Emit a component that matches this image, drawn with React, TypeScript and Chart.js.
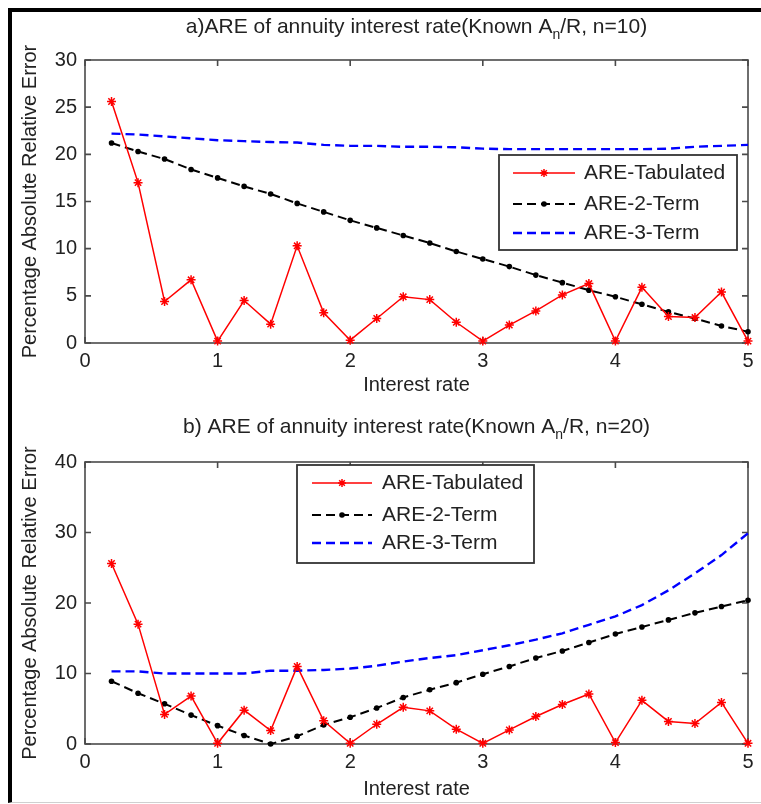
import React, { useEffect, useRef } from "react";
import { Chart, registerables } from "chart.js";

Chart.register(...registerables);

// ---------- data ----------
const interestRate = [0.2, 0.4, 0.6, 0.8, 1.0, 1.2, 1.4, 1.6, 1.8, 2.0, 2.2, 2.4, 2.6, 2.8, 3.0, 3.2, 3.4, 3.6, 3.8, 4.0, 4.2, 4.4, 4.6, 4.8, 5.0];

const topTabulated = [25.6, 17.0, 4.4, 6.7, 0.2, 4.5, 2.0, 10.3, 3.2, 0.3, 2.6, 4.9, 4.6, 2.2, 0.2, 1.9, 3.4, 5.1, 6.3, 0.2, 5.9, 2.8, 2.7, 5.4, 0.2];
const top2Term = [21.2, 20.3, 19.5, 18.4, 17.5, 16.6, 15.8, 14.8, 13.9, 13.0, 12.2, 11.4, 10.6, 9.7, 8.9, 8.1, 7.2, 6.4, 5.6, 4.9, 4.1, 3.3, 2.6, 1.8, 1.2];
const top3Term = [22.2, 22.1, 21.9, 21.7, 21.5, 21.4, 21.3, 21.25, 21.0, 20.9, 20.9, 20.8, 20.8, 20.75, 20.6, 20.55, 20.55, 20.55, 20.55, 20.55, 20.55, 20.6, 20.8, 20.9, 21.0];

const bottomTabulated = [25.6, 17.0, 4.2, 6.8, 0.1, 4.8, 1.9, 11.0, 3.3, 0.1, 2.8, 5.2, 4.7, 2.1, 0.1, 2.0, 3.9, 5.6, 7.1, 0.2, 6.2, 3.2, 2.9, 5.9, 0.1];
const bottom2Term = [8.9, 7.2, 5.7, 4.1, 2.6, 1.2, 0.0, 1.1, 2.7, 3.8, 5.1, 6.6, 7.7, 8.7, 9.9, 11.0, 12.2, 13.2, 14.4, 15.6, 16.6, 17.6, 18.6, 19.5, 20.4];
const bottom3Term = [10.3, 10.3, 10.0, 10.0, 10.0, 10.0, 10.4, 10.4, 10.5, 10.7, 11.1, 11.7, 12.2, 12.6, 13.3, 14.0, 14.8, 15.7, 16.9, 18.1, 19.7, 21.8, 24.2, 26.8, 29.9];

const seriesLabels = ["ARE-Tabulated", "ARE-2-Term", "ARE-3-Term"];
const xTitle = "Interest rate";
const yTitle = "Percentage Absolute Relative Error";
const topTitleParts = ["a)ARE of annuity interest rate(Known A", "n", "/R, n=10)"];
const bottomTitleParts = ["b) ARE of annuity interest rate(Known A", "n", "/R, n=20)"];
const topYMax = 30;
const topYStep = 5;
const bottomYMax = 40;
const bottomYStep = 10;
const xMin = 0;
const xMax = 5;

// ---------- styling ----------
const FONT = "'Liberation Sans', Arial, Helvetica, sans-serif";
const TEXT = "#222";

function drawStar(ctx: CanvasRenderingContext2D, x: number, y: number, r: number) {
  ctx.beginPath();
  ctx.moveTo(x - r, y);
  ctx.lineTo(x + r, y);
  ctx.moveTo(x, y - r);
  ctx.lineTo(x, y + r);
  const d = r * 0.707;
  ctx.moveTo(x - d, y - d);
  ctx.lineTo(x + d, y + d);
  ctx.moveTo(x - d, y + d);
  ctx.lineTo(x + d, y - d);
  ctx.stroke();
}

const framePlugin = {
  id: "frameTicks",
  beforeDatasetsDraw(chart: any) {
    const { ctx, chartArea: a, scales } = chart;
    ctx.save();
    ctx.strokeStyle = "#4a4a4a";
    ctx.lineWidth = 1.6;
    ctx.strokeRect(a.left, a.top, a.right - a.left, a.bottom - a.top);
    const tl = 6;
    ctx.beginPath();
    scales.x.ticks.forEach((t: any) => {
      const px = scales.x.getPixelForValue(t.value);
      ctx.moveTo(px, a.bottom);
      ctx.lineTo(px, a.bottom - tl);
      ctx.moveTo(px, a.top);
      ctx.lineTo(px, a.top + tl);
    });
    scales.y.ticks.forEach((t: any) => {
      const py = scales.y.getPixelForValue(t.value);
      ctx.moveTo(a.left, py);
      ctx.lineTo(a.left + tl, py);
      ctx.moveTo(a.right, py);
      ctx.lineTo(a.right - tl, py);
    });
    ctx.stroke();
    ctx.restore();
  },
};

function makeTitlePlugin(parts: string[], y: number) {
  return {
    id: "subTitle",
    afterDraw(chart: any) {
      const { ctx, chartArea: a } = chart;
      ctx.save();
      const big = `21px ${FONT}`;
      const small = `14px ${FONT}`;
      ctx.font = big;
      const w1 = ctx.measureText(parts[0]).width;
      const w3 = ctx.measureText(parts[2]).width;
      ctx.font = small;
      const w2 = ctx.measureText(parts[1]).width;
      const total = w1 + w2 + w3;
      let x = (a.left + a.right) / 2 - total / 2;
      ctx.fillStyle = TEXT;
      ctx.textBaseline = "middle";
      ctx.textAlign = "left";
      ctx.font = big;
      ctx.fillText(parts[0], x, y);
      x += w1;
      ctx.font = small;
      ctx.fillText(parts[1], x, y + 8);
      x += w2;
      ctx.font = big;
      ctx.fillText(parts[2], x, y);
      ctx.restore();
    },
  };
}

function makeLegendPlugin(box: { x0: number; y0: number; x1: number; y1: number }, rowsY: number[], lineX0: number, lineX1: number, textX: number) {
  return {
    id: "boxLegend",
    afterDraw(chart: any) {
      const { ctx } = chart;
      ctx.save();
      ctx.fillStyle = "#fff";
      ctx.fillRect(box.x0, box.y0, box.x1 - box.x0, box.y1 - box.y0);
      ctx.strokeStyle = "#333";
      ctx.lineWidth = 1.8;
      ctx.strokeRect(box.x0, box.y0, box.x1 - box.x0, box.y1 - box.y0);
      chart.data.datasets.forEach((ds: any, i: number) => {
        const y = rowsY[i];
        ctx.strokeStyle = ds.borderColor;
        ctx.lineWidth = ds.borderWidth;
        ctx.setLineDash(ds.borderDash || []);
        ctx.beginPath();
        ctx.moveTo(lineX0, y);
        ctx.lineTo(lineX1, y);
        ctx.stroke();
        ctx.setLineDash([]);
        const cx = (lineX0 + lineX1) / 2;
        if (ds.pointStyle === "star") {
          ctx.lineWidth = 1.5;
          drawStar(ctx, cx, y, 4);
        } else if (ds.pointRadius > 0) {
          ctx.fillStyle = ds.borderColor;
          ctx.beginPath();
          ctx.arc(cx, y, ds.pointRadius, 0, Math.PI * 2);
          ctx.fill();
        }
        ctx.fillStyle = TEXT;
        ctx.font = `21px ${FONT}`;
        ctx.textBaseline = "middle";
        ctx.textAlign = "left";
        ctx.fillText(ds.label, textX, y);
      });
      ctx.restore();
    },
  };
}

function makeDatasets(tab: number[], two: number[], three: number[]) {
  const pts = (arr: number[]) => interestRate.map((x, i) => ({ x, y: arr[i] }));
  return [
    {
      label: seriesLabels[0],
      data: pts(tab),
      borderColor: "#ff0000",
      backgroundColor: "#ff0000",
      borderWidth: 1.5,
      pointStyle: "star",
      pointRadius: 4.5,
      pointBorderColor: "#ff0000",
      pointBorderWidth: 1.5,
      tension: 0,
      clip: false,
    },
    {
      label: seriesLabels[1],
      data: pts(two),
      borderColor: "#000000",
      backgroundColor: "#000000",
      borderWidth: 2,
      borderDash: [9, 5],
      pointStyle: "circle",
      pointRadius: 2.8,
      pointBackgroundColor: "#000000",
      pointBorderWidth: 0,
      tension: 0,
      clip: false,
    },
    {
      label: seriesLabels[2],
      data: pts(three),
      borderColor: "#0000ff",
      backgroundColor: "#0000ff",
      borderWidth: 2.4,
      borderDash: [9, 5],
      pointRadius: 0,
      tension: 0,
      clip: false,
    },
  ];
}

function makeOptions(yMax: number, yStep: number, padTop: number, xAxisHeight: number, xTitlePadBottom: number) {
  const tickFont = { family: FONT, size: 20 };
  return {
    animation: false,
    responsive: false,
    devicePixelRatio: 1,
    events: [],
    layout: { padding: { top: padTop, right: 13, left: 0, bottom: 0 } },
    plugins: { legend: { display: false }, tooltip: { enabled: false }, title: { display: false } },
    scales: {
      x: {
        type: "linear",
        min: xMin,
        max: xMax,
        ticks: { stepSize: 1, font: tickFont, color: TEXT, padding: 6, maxRotation: 0 },
        grid: { display: false, drawTicks: false },
        border: { display: false },
        title: { display: true, text: xTitle, font: tickFont, color: TEXT, padding: { top: 0, bottom: xTitlePadBottom } },
        afterFit: (s: any) => {
          s.height = xAxisHeight;
        },
      },
      y: {
        type: "linear",
        min: 0,
        max: yMax,
        ticks: { stepSize: yStep, font: tickFont, color: TEXT, padding: 8 },
        grid: { display: false, drawTicks: false },
        border: { display: false },
        title: { display: true, text: yTitle, font: tickFont, color: TEXT, padding: { top: 6, bottom: 0 } },
        afterFit: (s: any) => {
          s.width = 73;
        },
      },
    },
  };
}

function ChartCanvas(props: { width: number; height: number; build: (c: HTMLCanvasElement) => Chart }) {
  const ref = useRef<HTMLCanvasElement>(null);
  useEffect(() => {
    if (!ref.current) return;
    const chart = props.build(ref.current);
    return () => chart.destroy();
  }, []);
  return <canvas ref={ref} width={props.width} height={props.height} style={{ width: props.width, height: props.height, display: "block" }} />;
}

export default function App() {
  const W = 749;
  const H1 = 392;
  const H2 = 398;
  const buildTop = (c: HTMLCanvasElement) =>
    new Chart(c, {
      type: "line",
      data: { datasets: makeDatasets(topTabulated, top2Term, top3Term) as any },
      options: makeOptions(topYMax, topYStep, 48, 61, 7) as any,
      plugins: [
        framePlugin,
        makeTitlePlugin(topTitleParts, 15),
        makeLegendPlugin({ x0: 487, y0: 143, x1: 725, y1: 238 }, [161, 192, 221], 501, 563, 572),
      ],
    });
  const buildBottom = (c: HTMLCanvasElement) =>
    new Chart(c, {
      type: "line",
      data: { datasets: makeDatasets(bottomTabulated, bottom2Term, bottom3Term) as any },
      options: makeOptions(bottomYMax, bottomYStep, 58, 58, 1) as any,
      plugins: [
        framePlugin,
        makeTitlePlugin(bottomTitleParts, 23),
        makeLegendPlugin({ x0: 285, y0: 61, x1: 522, y1: 159 }, [79, 111, 139], 300, 360, 370),
      ],
    });
  return (
    <div style={{ position: "fixed", left: 0, top: 0, width: 761, height: 804, background: "#fff", overflow: "hidden" }}>
      <div
        style={{
          position: "absolute",
          left: 8,
          top: 8,
          width: 753,
          height: 795,
          boxSizing: "border-box",
          borderTop: "4px solid #000",
          borderLeft: "4px solid #000",
          borderBottom: "1px solid #d0d0d0",
        }}
      >
        <div style={{ position: "absolute", left: 0, top: 0 }}>
          <ChartCanvas width={W} height={H1} build={buildTop} />
        </div>
        <div style={{ position: "absolute", left: 0, top: H1 }}>
          <ChartCanvas width={W} height={H2} build={buildBottom} />
        </div>
      </div>
    </div>
  );
}
